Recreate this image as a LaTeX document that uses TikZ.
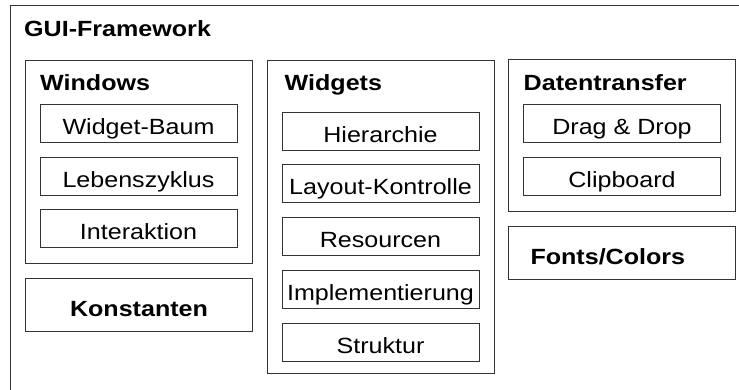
\documentclass[tikz,border=0pt]{standalone}
\usepackage{fontspec}
\setmainfont{Liberation Sans}[FakeStretch=1.14]
\usetikzlibrary{positioning}
\newcommand{\bigsz}{\fontsize{22pt}{26pt}\selectfont}
\tikzset{grp/.style={draw=black!80, line width=1pt, anchor=north west, minimum width=227pt, inner sep=0pt}}
\tikzset{item/.style={draw=black!80, line width=1pt, minimum width=197pt, minimum height=38pt, inner sep=0pt, text height=22pt, text depth=0pt}}
\tikzset{hd/.style={anchor=base west, inner sep=0pt, font=\bigsz\bfseries}}

\begin{document}
\begin{tikzpicture}[x=1pt, y=1pt, font=\bigsz]
\useasboundingbox (0,0) rectangle (739,-389);
\clip (0,0) rectangle (739,-389);
\begin{scope}[on grid]

%%% The frame
\node[grp, minimum width=760pt, minimum height=400pt] (gui) at (10,-5) {};
\node[hd] (guiT) at (24,-36.5) {GUI-Framework};

%%% Windows
\node[grp, minimum height=203pt] (win) at (25,-60) {};
\node[hd] (winT) at (40,-90) {Windows};
\node[item] (wb) at (138.5,-123.5) {Widget-Baum};
\node[item, below=52.5pt of wb] (lz) {Lebenszyklus};
\node[item, below=52.5pt of lz] (ia) {Interaktion};

\node[grp, minimum height=53pt, font=\bigsz\bfseries, text height=22pt, text depth=0pt] (kon) at (25,-278) {Konstanten};

%%% Widgets
\node[grp, minimum height=313pt] (wid) at (267,-60) {};
\node[hd] (widT) at (284.5,-90) {Widgets};
\node[item] (hi) at (380.5,-131) {Hierarchie};
\node[item, below=52.8pt of hi] (lk) {Layout-Kontrolle};
\node[item, below=52.8pt of lk] (rs) {Resourcen};
\node[item, below=52.8pt of rs] (im) {Implementierung};
\node[item, below=52.8pt of im] (st) {Struktur};

%%% Datentransfer
\node[grp, minimum height=152pt] (dt) at (508,-59) {};
\node[hd] (dtT) at (523.5,-90) {Datentransfer};
\node[item] (dd) at (622,-123) {Drag \& Drop};
\node[item, below=53.5pt of dd] (cb) {Clipboard};

\node[grp, minimum height=53pt, text width=183pt, inner xsep=22pt, align=left, font=\bigsz\bfseries, text height=22pt, text depth=0pt] (fc) at (508,-226) {Fonts/Colors};

\end{scope}
\end{tikzpicture}
\end{document}
